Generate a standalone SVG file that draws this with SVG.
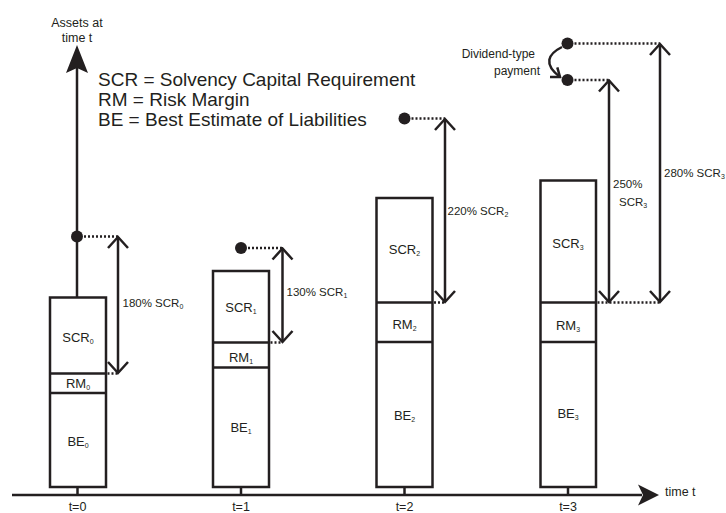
<svg xmlns="http://www.w3.org/2000/svg" width="726" height="513" viewBox="0 0 726 513">
<style>
text{font-family:"Liberation Sans",Arial,sans-serif;fill:#231f20}
.leg{font-size:19px}
.ax{font-size:12.5px}
.lbl{font-size:13px;text-anchor:middle}
.pct{font-size:11.5px}
.sub{font-size:7px}
.box{fill:#fff;stroke:#231f20;stroke-width:2.5}
.ln{stroke:#231f20;stroke-width:2.5;fill:none}
.dot{stroke:#231f20;stroke-width:2.5;stroke-dasharray:2 2;fill:none}
.arr{stroke:#231f20;stroke-width:2.5;fill:none;marker-start:url(#v);marker-end:url(#v)}
.pt{fill:#231f20}
</style>
<defs>
<marker id="v" viewBox="-14 -12 16 24" markerWidth="16" markerHeight="24" refX="0" refY="0" orient="auto-start-reverse" markerUnits="userSpaceOnUse">
<path d="M-11,-10 L0,0 L-11,10" fill="none" stroke="#231f20" stroke-width="2.5"/>
</marker>
<marker id="vs" viewBox="-10 -8 12 16" markerWidth="12" markerHeight="16" refX="0" refY="0" orient="auto" markerUnits="userSpaceOnUse">
<path d="M-8,-6 L0,0 L-8,6" fill="none" stroke="#231f20" stroke-width="2.5"/>
</marker>
</defs>
<rect width="726" height="513" fill="#fff"/>

<g id="axes">
<line class="ln" x1="77" y1="68" x2="77" y2="297"/>
<path class="pt" d="M77,45 L88,73 L77,68 L66,73 Z"/>
<line class="ln" x1="12" y1="495" x2="642" y2="495"/>
<path class="pt" d="M659,495 L638,484.5 L643,495 L638,505.5 Z"/>
<text class="ax" x="77" y="27" text-anchor="middle">Assets at</text>
<text class="ax" x="77" y="42" text-anchor="middle">time t</text>
<text class="ax" x="665" y="496">time t</text>
<line class="ln" x1="77.5" y1="487" x2="77.5" y2="495"/>
<line class="ln" x1="241" y1="487" x2="241" y2="495"/>
<line class="ln" x1="404.5" y1="487" x2="404.5" y2="495"/>
<line class="ln" x1="568" y1="487" x2="568" y2="495"/>
<text class="ax" x="77.5" y="511" text-anchor="middle">t=0</text>
<text class="ax" x="241" y="511" text-anchor="middle">t=1</text>
<text class="ax" x="404.5" y="511" text-anchor="middle">t=2</text>
<text class="ax" x="568" y="511" text-anchor="middle">t=3</text>
</g>

<g id="legend">
<text class="leg" x="98" y="86">SCR = Solvency Capital Requirement</text>
<text class="leg" x="98" y="106">RM = Risk Margin</text>
<text class="leg" x="98" y="126">BE = Best Estimate of Liabilities</text>
</g>

<g id="box0">
<rect class="box" x="50" y="297.5" width="56" height="189.5"/>
<line class="ln" x1="50" y1="373.5" x2="106" y2="373.5"/>
<line class="ln" x1="50" y1="393" x2="106" y2="393"/>
<text class="lbl" x="78" y="342">SCR<tspan class="sub" dy="2">0</tspan></text>
<text class="lbl" x="78" y="388">RM<tspan class="sub" dy="2">0</tspan></text>
<text class="lbl" x="78" y="446">BE<tspan class="sub" dy="2">0</tspan></text>
</g>

<g id="box1">
<rect class="box" x="213" y="271" width="56" height="216"/>
<line class="ln" x1="213" y1="342.5" x2="269" y2="342.5"/>
<line class="ln" x1="213" y1="367.5" x2="269" y2="367.5"/>
<text class="lbl" x="241" y="312">SCR<tspan class="sub" dy="2">1</tspan></text>
<text class="lbl" x="241" y="361.5">RM<tspan class="sub" dy="2">1</tspan></text>
<text class="lbl" x="241" y="431.5">BE<tspan class="sub" dy="2">1</tspan></text>
</g>

<g id="box2">
<rect class="box" x="376.5" y="198" width="56" height="289"/>
<line class="ln" x1="376.5" y1="302.5" x2="432.5" y2="302.5"/>
<line class="ln" x1="376.5" y1="342" x2="432.5" y2="342"/>
<text class="lbl" x="404.5" y="254">SCR<tspan class="sub" dy="2">2</tspan></text>
<text class="lbl" x="404.5" y="328.5">RM<tspan class="sub" dy="2">2</tspan></text>
<text class="lbl" x="404.5" y="420">BE<tspan class="sub" dy="2">2</tspan></text>
</g>

<g id="box3">
<rect class="box" x="540.5" y="180.5" width="55.5" height="306.5"/>
<line class="ln" x1="540.5" y1="302.5" x2="596" y2="302.5"/>
<line class="ln" x1="540.5" y1="342" x2="596" y2="342"/>
<text class="lbl" x="568" y="248">SCR<tspan class="sub" dy="2">3</tspan></text>
<text class="lbl" x="568" y="330">RM<tspan class="sub" dy="2">3</tspan></text>
<text class="lbl" x="568" y="418">BE<tspan class="sub" dy="2">3</tspan></text>
</g>

<g id="asset-points">
<circle class="pt" cx="77" cy="236.5" r="6"/>
<circle class="pt" cx="241" cy="248" r="6"/>
<circle class="pt" cx="404.5" cy="118.5" r="6"/>
<circle class="pt" cx="567.5" cy="43.5" r="6"/>
<circle class="pt" cx="567.5" cy="80" r="6"/>
</g>

<g id="labels">
<text class="pct" x="122.5" y="306.5">180% SCR<tspan class="sub" dy="2">0</tspan></text>
<text class="pct" x="286.5" y="295.5">130% SCR<tspan class="sub" dy="2">1</tspan></text>
<text class="pct" x="447.5" y="215">220% SCR<tspan class="sub" dy="2">2</tspan></text>
<text class="pct" x="613" y="188">250%</text>
<text class="pct" x="619" y="206">SCR<tspan class="sub" dy="2">3</tspan></text>
<text class="pct" x="664" y="177">280% SCR<tspan class="sub" dy="2">3</tspan></text>
<text class="ax" x="535" y="58" text-anchor="end" style="font-size:12px">Dividend-type</text>
<text class="ax" x="540" y="75" text-anchor="end" style="font-size:12px">payment</text>
</g>

<g id="connectors">
<line class="dot" x1="84" y1="236.5" x2="118" y2="236.5"/>
<line class="dot" x1="107.5" y1="373.5" x2="118" y2="373.5"/>
<line class="arr" x1="118" y1="237" x2="118" y2="373"/>

<line class="dot" x1="248" y1="248" x2="282.5" y2="248"/>
<line class="dot" x1="270.5" y1="342.5" x2="282.5" y2="342.5"/>
<line class="arr" x1="282.5" y1="248.5" x2="282.5" y2="342"/>

<line class="dot" x1="411.5" y1="118.5" x2="445" y2="118.5"/>
<line class="dot" x1="434" y1="302.5" x2="445" y2="302.5"/>
<line class="arr" x1="445" y1="119" x2="445" y2="302"/>

<line class="dot" x1="574.5" y1="43.5" x2="660" y2="43.5"/>
<line class="dot" x1="574.5" y1="80" x2="609" y2="80"/>
<line class="dot" x1="597.5" y1="302.5" x2="660" y2="302.5"/>
<line class="arr" x1="609" y1="80.5" x2="609" y2="302"/>
<line class="arr" x1="660" y1="44" x2="660" y2="302"/>

<path class="ln" d="M562,47 C548,54 543,64 560,77" marker-end="url(#vs)"/>
</g>
</svg>
